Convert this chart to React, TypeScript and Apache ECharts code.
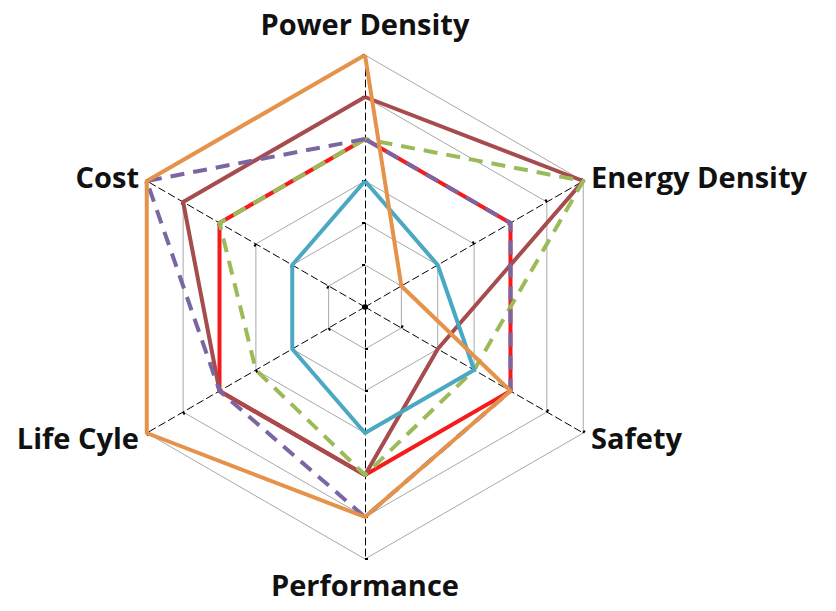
import React, { useEffect, useRef } from "react";
import * as echarts from "echarts";

// Indicators listed counter-clockwise starting at the top (ECharts radar order)
const indicatorNames = ["Power Density", "Cost", "Life Cyle", "Performance", "Safety", "Energy Density"];
const axisMax = 6;

// Values per series, in the indicator order above
const orangeValues = [6, 6, 6, 5, 4, 1];
const brownValues = [5, 5, 4, 4, 2, 6];
const redValues = [4, 4, 4, 4, 4, 4];
const greenValues = [4, 4, 3, 4, 3, 6];
const purpleValues = [4, 6, 4, 5, 4, 4];
const tealValues = [3, 2, 2, 3, 3, 2];

export default function App() {
  const ref = useRef<HTMLDivElement>(null);
  useEffect(() => {
    if (!ref.current) return;
    const chart = echarts.init(ref.current, null, { renderer: "svg" });
    const mk = (name: string, values: number[], color: string, dashed: boolean) => ({
      type: "radar",
      name,
      symbol: "none",
      silent: true,
      lineStyle: {
        color,
        width: 4,
        type: dashed ? [14, 9] : "solid",
        opacity: 1,
      },
      data: [{ value: values, name }],
    });
    const font = {
      color: "#111111",
      fontSize: 29,
      fontWeight: "bold" as const,
      fontFamily: "Open Sans",
    };
    chart.setOption({
      animation: false,
      backgroundColor: "#ffffff",
      radar: {
        center: [365, 307],
        radius: 252,
        startAngle: 90,
        shape: "polygon",
        splitNumber: 6,
        indicator: indicatorNames.map((n) => ({ name: n, max: axisMax, min: 0 })),
        nameGap: 9,
        axisName: {
          ...font,
          formatter: (name: string) =>
            name === "Power Density" ? `{top|${name}}` : name === "Performance" ? `{bot|${name}}` : `{side|${name}}`,
          rich: {
            top: { ...font, padding: [0, 0, 8, 0] },
            bot: { ...font, padding: [2, 0, 0, 0] },
            side: { ...font },
          },
        },
        axisLine: { lineStyle: { color: "#000000", width: 1, type: [7, 4] } },
        axisTick: { show: true, length: 3, lineStyle: { color: "#000000", width: 2 } },
        splitLine: { lineStyle: { color: "#A8A8A8", width: 1 } },
        splitArea: { show: false },
      },
      series: [
        mk("red", redValues, "#F51B1B", false),
        mk("brown", brownValues, "#A64B4E", false),
        mk("green", greenValues, "#9BBB59", true),
        mk("purple", purpleValues, "#7A66A0", true),
        mk("teal", tealValues, "#4AA8C2", false),
        mk("orange", orangeValues, "#E5924A", false),
      ],
    });
    return () => chart.dispose();
  }, []);
  return (
    <div
      ref={ref}
      style={{ position: "fixed", left: 0, top: 0, width: 836, height: 611, background: "#fff" }}
    />
  );
}
